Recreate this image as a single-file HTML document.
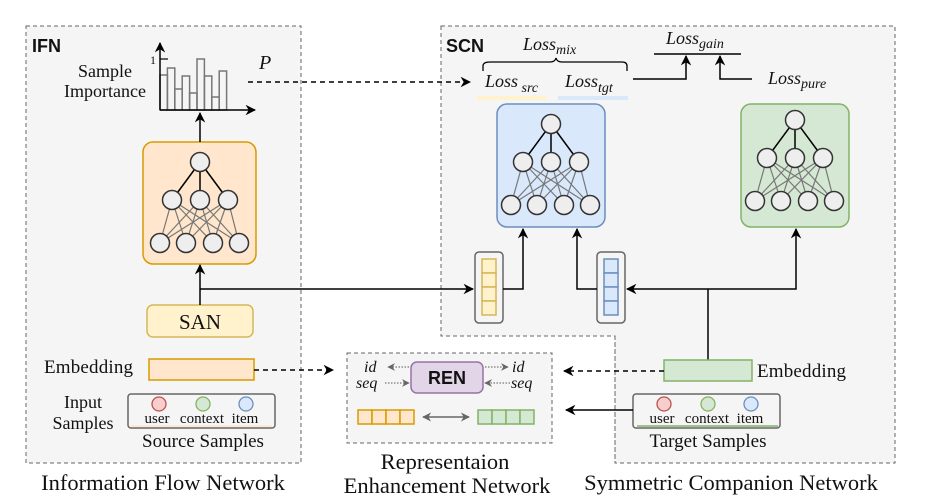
<!DOCTYPE html>
<html><head><meta charset="utf-8"><style>body{margin:0;background:#fff}svg{display:block}text{font-family:"Liberation Serif",serif;fill:#111}</style></head><body>
<svg width="925" height="503" viewBox="0 0 925 503" xmlns="http://www.w3.org/2000/svg">
<defs>
<marker id="a" viewBox="0 0 10 10" refX="9" refY="5" markerWidth="7" markerHeight="7" orient="auto-start-reverse"><path d="M0,0 L10,5 L0,10 L3,5z" fill="#000"/></marker>
<marker id="g" viewBox="0 0 10 10" refX="9" refY="5" markerWidth="6" markerHeight="6" orient="auto-start-reverse"><path d="M0,0 L10,5 L0,10 L3,5z" fill="#666"/></marker>
<g id="nn">
<g stroke="#777" stroke-width="1.2">
<line x1="-28" y1="38" x2="-40" y2="81"/><line x1="-28" y1="38" x2="-14" y2="81"/><line x1="-28" y1="38" x2="13" y2="81"/><line x1="-28" y1="38" x2="39" y2="81"/>
<line x1="0" y1="38" x2="-40" y2="81"/><line x1="0" y1="38" x2="-14" y2="81"/><line x1="0" y1="38" x2="13" y2="81"/><line x1="0" y1="38" x2="39" y2="81"/>
<line x1="28" y1="38" x2="-40" y2="81"/><line x1="28" y1="38" x2="-14" y2="81"/><line x1="28" y1="38" x2="13" y2="81"/><line x1="28" y1="38" x2="39" y2="81"/>
</g>
<g stroke="#000" stroke-width="1.5"><line x1="0" y1="0" x2="-28" y2="38"/><line x1="0" y1="0" x2="0" y2="38"/><line x1="0" y1="0" x2="28" y2="38"/></g>
<g fill="#eee" stroke="#333" stroke-width="1.5">
<circle cx="0" cy="0" r="9.5"/><circle cx="-28" cy="38" r="9.5"/><circle cx="0" cy="38" r="9.5"/><circle cx="28" cy="38" r="9.5"/>
<circle cx="-40" cy="81" r="9.5"/><circle cx="-14" cy="81" r="9.5"/><circle cx="13" cy="81" r="9.5"/><circle cx="39" cy="81" r="9.5"/>
</g>
</g>
</defs>

<rect x="26" y="26" width="275" height="437" fill="#f5f5f5" stroke="#666" stroke-dasharray="4,3"/>
<path d="M441,26 H895 V463 H615 V336 H441 Z" fill="#f5f5f5" stroke="#666" stroke-dasharray="4,3"/>
<rect x="347" y="353" width="205" height="90" fill="#f5f5f5" stroke="#666" stroke-dasharray="4,3"/>
<line x1="615" y1="336" x2="615" y2="463" stroke="#666" stroke-dasharray="4,3"/>

<text x="32" y="52" style="font-family:'Liberation Sans',sans-serif;font-weight:bold;font-size:18px">IFN</text>
<text x="446" y="52" style="font-family:'Liberation Sans',sans-serif;font-weight:bold;font-size:18px">SCN</text>

<g fill="none" stroke="#777" stroke-width="1.5">
<rect x="160" y="75" width="7.4" height="35"/><rect x="167.4" y="68" width="7.4" height="42"/><rect x="174.8" y="89" width="7.4" height="21"/>
<rect x="182.2" y="76" width="7.4" height="34"/><rect x="189.6" y="93" width="7.4" height="17"/><rect x="197" y="59" width="7.4" height="51"/>
<rect x="204.4" y="76" width="7.4" height="34"/><rect x="211.8" y="97" width="7.4" height="13"/><rect x="219.2" y="71" width="7.4" height="39"/>
</g>
<line x1="160" y1="110" x2="160" y2="43" stroke="#000" stroke-width="1.5" marker-end="url(#a)"/>
<line x1="160" y1="110" x2="255" y2="110" stroke="#000" stroke-width="1.5" marker-end="url(#a)"/>
<line x1="160" y1="59" x2="168" y2="59" stroke="#000" stroke-width="1.2"/>
<text x="150" y="64" font-size="12">1</text>
<text x="105" y="77" font-size="18" text-anchor="middle">Sample</text>
<text x="105" y="97" font-size="18" text-anchor="middle">Importance</text>
<text x="259" y="69" font-size="20" font-style="italic">P</text>
<line x1="248" y1="82" x2="470" y2="82" stroke="#000" stroke-width="1.5" stroke-dasharray="5,4" marker-end="url(#a)"/>

<rect x="143" y="142" width="113" height="122" rx="10" fill="#ffe6cc" stroke="#d79b00" stroke-width="1.5"/>
<use href="#nn" x="200" y="162"/>
<line x1="200" y1="142" x2="200" y2="113" stroke="#000" stroke-width="1.5" marker-end="url(#a)"/>

<rect x="147" y="305" width="106" height="32" rx="6" fill="#fff2cc" stroke="#d6b656" stroke-width="1.5"/>
<text x="200" y="329" font-size="21" text-anchor="middle">SAN</text>
<line x1="200" y1="305" x2="200" y2="265" stroke="#000" stroke-width="1.5" marker-end="url(#a)"/>
<line x1="200" y1="289" x2="473" y2="289" stroke="#000" stroke-width="1.5" marker-end="url(#a)"/>

<text x="44" y="373" font-size="19" textLength="89">Embedding</text>
<rect x="149" y="359" width="105" height="21" fill="#ffe6cc" stroke="#d79b00" stroke-width="1.5"/>
<line x1="254" y1="370" x2="333" y2="370" stroke="#000" stroke-width="1.5" stroke-dasharray="5,4" marker-end="url(#a)"/>

<text x="83" y="408" font-size="18" text-anchor="middle">Input</text>
<text x="83" y="429" font-size="18" text-anchor="middle">Samples</text>
<rect x="128" y="394" width="147" height="34" rx="3" fill="#f5f5f5" stroke="#666" stroke-width="1.5"/>
<line x1="131" y1="426" x2="272" y2="426" stroke="#ffe6cc" stroke-width="1.5"/>
<circle cx="159" cy="404" r="7" fill="#f8cecc" stroke="#b85450" stroke-width="1.3"/>
<circle cx="203" cy="404" r="7" fill="#d5e8d4" stroke="#82b366" stroke-width="1.3"/>
<circle cx="246" cy="404" r="7" fill="#dae8fc" stroke="#6c8ebf" stroke-width="1.3"/>
<text x="157" y="423" font-size="15" text-anchor="middle">user</text>
<text x="202" y="423" font-size="15" text-anchor="middle">context</text>
<text x="245" y="423" font-size="15" text-anchor="middle">item</text>
<text x="203" y="447" font-size="19" text-anchor="middle">Source Samples</text>
<text x="163" y="490" font-size="22.5" text-anchor="middle">Information Flow Network</text>

<text x="523" y="50" font-size="18" font-style="italic">Loss<tspan font-size="14" dy="4">mix</tspan></text>
<path d="M483,71 V66 Q483,62 490,62 H550 Q555,62 556,58 Q557,62 562,62 H622 Q627,62 627,66 V71" fill="none" stroke="#000" stroke-width="1.3"/>
<text x="485" y="87" font-size="18" font-style="italic">Loss<tspan font-size="14" dy="5"> src</tspan></text>
<rect x="477" y="96" width="70" height="4" fill="#fff2cc"/>
<text x="565" y="87" font-size="18" font-style="italic">Loss<tspan font-size="14" dy="5">tgt</tspan></text>
<rect x="558" y="96" width="70" height="4" fill="#dae8fc"/>
<text x="666" y="44" font-size="18" font-style="italic">Loss<tspan font-size="14" dy="4">gain</tspan></text>
<line x1="654" y1="54" x2="741" y2="54" stroke="#000" stroke-width="1.5"/>
<polyline points="633,79 686,79 686,56" fill="none" stroke="#000" stroke-width="1.5" marker-end="url(#a)"/>
<polyline points="752,79 720,79 720,56" fill="none" stroke="#000" stroke-width="1.5" marker-end="url(#a)"/>
<text x="768" y="84" font-size="18" font-style="italic">Loss<tspan font-size="14" dy="4">pure</tspan></text>

<rect x="497" y="104" width="108" height="123" rx="10" fill="#dae8fc" stroke="#6c8ebf" stroke-width="1.5"/>
<use href="#nn" x="551" y="124"/>
<rect x="741" y="104" width="108" height="123" rx="10" fill="#d5e8d4" stroke="#82b366" stroke-width="1.5"/>
<use href="#nn" x="795" y="120"/>

<rect x="475" y="252" width="28" height="71" rx="4" fill="#f5f5f5" stroke="#666" stroke-width="1.5"/>
<g fill="#fff2cc" stroke="#d6b656" stroke-width="1.5"><rect x="482" y="259" width="14" height="14"/><rect x="482" y="273" width="14" height="14"/><rect x="482" y="287" width="14" height="14"/><rect x="482" y="301" width="14" height="14"/></g>
<rect x="597" y="252" width="28" height="71" rx="4" fill="#f5f5f5" stroke="#666" stroke-width="1.5"/>
<g fill="#dae8fc" stroke="#6c8ebf" stroke-width="1.5"><rect x="604" y="259" width="14" height="14"/><rect x="604" y="273" width="14" height="14"/><rect x="604" y="287" width="14" height="14"/><rect x="604" y="301" width="14" height="14"/></g>

<polyline points="503,289 523,289 523,229" fill="none" stroke="#000" stroke-width="1.5" marker-end="url(#a)"/>
<polyline points="597,289 577,289 577,229" fill="none" stroke="#000" stroke-width="1.5" marker-end="url(#a)"/>
<line x1="708" y1="289" x2="627" y2="289" stroke="#000" stroke-width="1.5" marker-end="url(#a)"/>
<polyline points="708,289 796,289 796,229" fill="none" stroke="#000" stroke-width="1.5" marker-end="url(#a)"/>
<line x1="708" y1="289" x2="708" y2="360" stroke="#000" stroke-width="1.5"/>

<rect x="664" y="360" width="88" height="21" fill="#d5e8d4" stroke="#82b366" stroke-width="1.5"/>
<text x="757" y="377" font-size="19" textLength="89">Embedding</text>
<line x1="664" y1="371" x2="564" y2="371" stroke="#000" stroke-width="1.5" stroke-dasharray="5,4" marker-end="url(#a)"/>

<rect x="633" y="394" width="147" height="34" rx="3" fill="#f5f5f5" stroke="#666" stroke-width="1.5"/>
<line x1="637" y1="426" x2="778" y2="426" stroke="#82b366" stroke-width="1.5"/>
<circle cx="664" cy="404" r="7" fill="#f8cecc" stroke="#b85450" stroke-width="1.3"/>
<circle cx="708" cy="404" r="7" fill="#d5e8d4" stroke="#82b366" stroke-width="1.3"/>
<circle cx="751" cy="404" r="7" fill="#dae8fc" stroke="#6c8ebf" stroke-width="1.3"/>
<text x="662" y="423" font-size="15" text-anchor="middle">user</text>
<text x="707" y="423" font-size="15" text-anchor="middle">context</text>
<text x="750" y="423" font-size="15" text-anchor="middle">item</text>
<line x1="633" y1="410" x2="566" y2="410" stroke="#000" stroke-width="1.5" marker-end="url(#a)"/>
<text x="708" y="447" font-size="19" text-anchor="middle">Target Samples</text>
<text x="731" y="490" font-size="22.5" text-anchor="middle">Symmetric Companion Network</text>

<rect x="411" y="362" width="72" height="31" rx="6" fill="#e1d5e7" stroke="#9673a6" stroke-width="1.5"/>
<text x="447" y="384" text-anchor="middle" style="font-family:'Liberation Sans',sans-serif;font-weight:bold;font-size:18px">REN</text>
<text x="364" y="372" font-size="16" font-style="italic">id</text>
<text x="356" y="388" font-size="16" font-style="italic">seq</text>
<text x="512" y="372" font-size="16" font-style="italic">id</text>
<text x="511" y="388" font-size="16" font-style="italic">seq</text>
<g stroke="#777" stroke-width="1.3" stroke-dasharray="1.5,1.5" fill="none">
<line x1="409" y1="367" x2="388" y2="367" marker-end="url(#g)"/>
<line x1="385" y1="383" x2="409" y2="383" marker-end="url(#g)"/>
<line x1="485" y1="367" x2="508" y2="367" marker-end="url(#g)"/>
<line x1="510" y1="383" x2="485" y2="383" marker-end="url(#g)"/>
</g>
<g fill="#ffe6cc" stroke="#d79b00" stroke-width="1.5"><rect x="358" y="410" width="14" height="14"/><rect x="372" y="410" width="14" height="14"/><rect x="386" y="410" width="14" height="14"/><rect x="400" y="410" width="14" height="14"/></g>
<g fill="#d5e8d4" stroke="#82b366" stroke-width="1.5"><rect x="478" y="410" width="14" height="14"/><rect x="492" y="410" width="14" height="14"/><rect x="506" y="410" width="14" height="14"/><rect x="520" y="410" width="14" height="14"/></g>
<line x1="423" y1="417" x2="469" y2="417" stroke="#666" stroke-width="1.5" marker-start="url(#g)" marker-end="url(#g)"/>
<text x="445" y="469" font-size="22.5" text-anchor="middle">Representaion</text>
<text x="447" y="493" font-size="22.5" text-anchor="middle">Enhancement Network</text>
</svg>
</body></html>
